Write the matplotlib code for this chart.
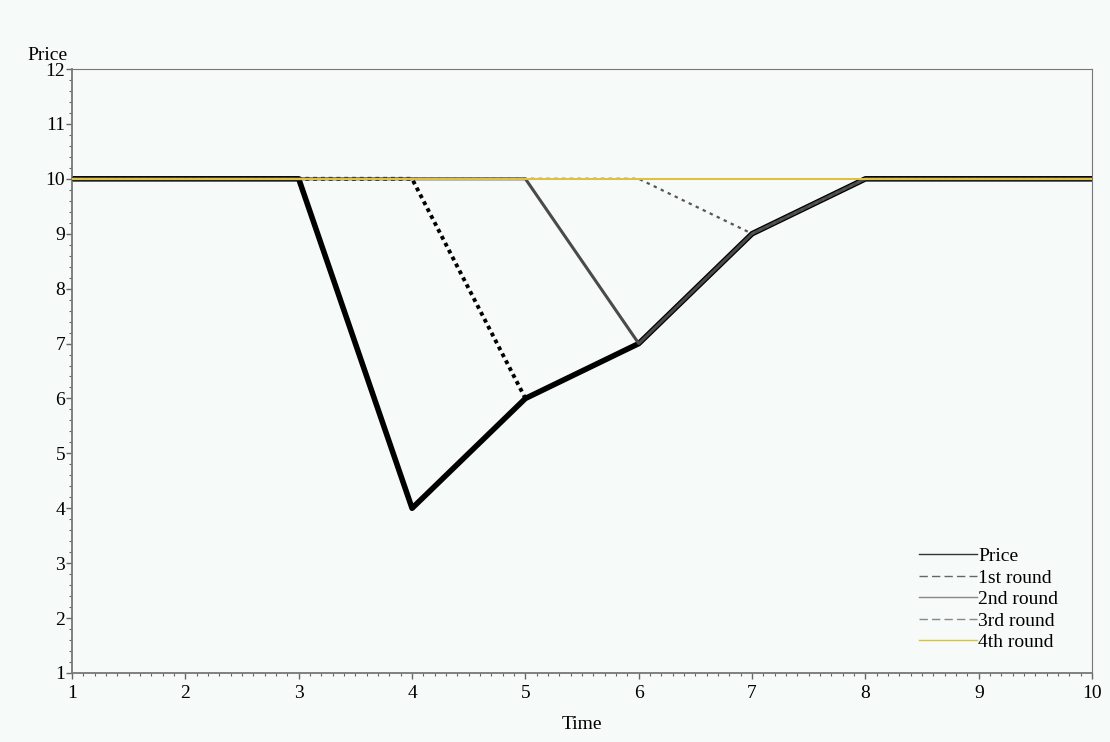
import matplotlib.pyplot as plt
from matplotlib.ticker import MultipleLocator

time = [1, 2, 3, 4, 5, 6, 7, 8, 9, 10]
price = [10, 10, 10, 4, 6, 7, 9, 10, 10, 10]
round1 = [10, 10, 10, 10, 6, 7, 9, 10, 10, 10]
round2 = [10, 10, 10, 10, 10, 7, 9, 10, 10, 10]
round3 = [10, 10, 10, 10, 10, 10, 9, 10, 10, 10]
round4 = [10, 10, 10, 10, 10, 10, 10, 10, 10, 10]

plt.rcParams['font.family'] = ['Liberation Serif', 'DejaVu Serif']
BG = '#f6faf8'
FS = 14

fig = plt.figure(figsize=(11.1, 7.42), dpi=100, facecolor=BG)
ax = fig.add_axes([0.0649, 0.093, 0.919, 0.814], facecolor=BG)

# lignes épaisses du graphique (sans légende)
ax.plot(time, price, color='black', linewidth=4.0, zorder=2)
ax.plot(time, round1, color='black', linewidth=2.8, linestyle=(0, (1, 1)), zorder=3)
ax.plot(time, round2, color='#4a4a4a', linewidth=2.2, zorder=4)
ax.plot(time, round3, color='#555555', linewidth=1.6, linestyle=(0, (1.5, 2)), zorder=5)
ax.plot(time, round4, color='#e0c040', linewidth=1.5, zorder=6)

# légende : traits fins
handles = [
    plt.Line2D([], [], color='#333333', linewidth=1),
    plt.Line2D([], [], color='#666666', linewidth=1, linestyle=(0, (6, 3))),
    plt.Line2D([], [], color='#888888', linewidth=1),
    plt.Line2D([], [], color='#888888', linewidth=1, linestyle=(0, (6, 3))),
    plt.Line2D([], [], color='#d8c040', linewidth=1),
]
labels = ['Price', '1st round', '2nd round', '3rd round', '4th round']
ax.legend(handles, labels, loc='lower right', bbox_to_anchor=(0.976, 0.020),
          frameon=False, fontsize=FS, handlelength=3.0, handletextpad=0.05,
          labelspacing=0.2, borderpad=0)

ax.set_xlim(1, 10)
ax.set_ylim(1, 12)
ax.xaxis.set_major_locator(MultipleLocator(1))
ax.xaxis.set_minor_locator(MultipleLocator(0.1))
ax.yaxis.set_major_locator(MultipleLocator(1))
ax.yaxis.set_minor_locator(MultipleLocator(0.2))
ax.tick_params(which='major', length=4, width=1, color='#666666', labelsize=FS)
ax.tick_params(which='minor', length=2.5, width=0.8, color='#666666')
ax.tick_params(axis='x', which='major', pad=4.5)
ax.tick_params(axis='y', which='major', pad=1)
for s in ax.spines.values():
    s.set_color('#777777')
ax.spines['left'].set_linewidth(1.3)
ax.spines['bottom'].set_linewidth(1.3)
ax.spines['top'].set_linewidth(0.8)
ax.spines['right'].set_linewidth(0.8)

ax.set_xlabel('Time', fontsize=FS, va='center')
ax.xaxis.set_label_coords(0.5, -0.086)
fig.text(0.025, 0.9246, 'Price', fontsize=FS, ha='left', va='center')

plt.savefig('out.png', dpi=100, facecolor=BG)
plt.close(fig)
